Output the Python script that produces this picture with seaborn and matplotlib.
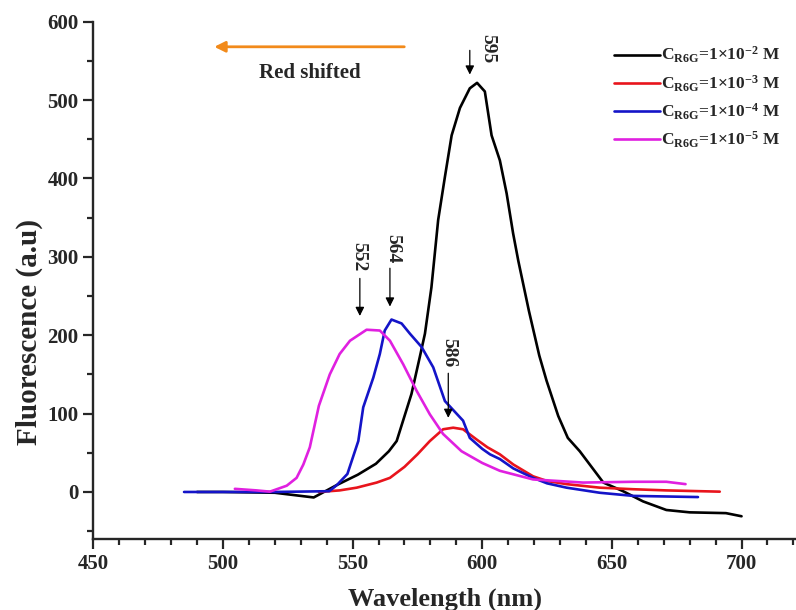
import matplotlib
matplotlib.use("Agg")
import matplotlib.pyplot as plt
from matplotlib.ticker import MultipleLocator
import pandas as pd
import seaborn as sns

# Spectra (wavelength in nm, fluorescence in a.u.)
wl_1e2 = [490, 500, 520, 535, 544, 552, 559, 564, 567, 572.7, 575.9, 577.9, 580.4, 583,
          585.6, 588.2, 591.4, 595.2, 598, 601, 603.6, 606.8, 609.4, 611.9, 613.9, 618,
          622, 624.8, 629.3, 633, 637.6, 646.7, 654.3, 662, 671, 680, 694, 700]
fl_1e2 = [0, 0, -1, -7, 9, 22, 36, 52, 65, 125, 172, 202, 261, 347,
          402, 455, 490, 515, 522, 511, 455, 423, 381, 330, 295, 231,
          174, 142, 97, 69, 52, 12, 1, -12, -23, -26, -27, -31]

wl_1e3 = [537, 545, 551.6, 559.3, 564.4, 570, 575, 579.8, 584.9, 588.8, 592.6, 597.8,
          602, 606.8, 612, 619.6, 625, 632.5, 645.3, 658.2, 671, 691.6]
fl_1e3 = [0, 2, 5.5, 12, 18, 32, 48, 65, 80, 82, 80, 67,
          57, 48, 35, 20, 14, 10, 5.5, 3.5, 2, 0.4]

wl_1e4 = [485, 500, 520, 541, 544, 548, 552.2, 554.1, 558, 560.5, 562.4, 565, 568.9,
          572.1, 576.6, 581.1, 585.6, 592.6, 595.2, 600, 603, 606.8, 612, 619.6, 625,
          632.5, 645.3, 658.2, 683.2]
fl_1e4 = [0, 0, 0, 1, 9, 23, 65, 108, 146, 176, 206, 220, 215,
          202, 185, 159, 116, 91, 69, 55, 48, 42, 30, 18, 11,
          5.5, -1, -5, -6.5]

wl_1e5 = [504.6, 513, 518.1, 524.6, 528.4, 531, 533.5, 537, 541.2, 545, 549, 555.4,
          560.5, 564.4, 569.5, 574.7, 579.8, 584.9, 592, 600, 606.8, 619.6, 638.9,
          658.2, 671, 678.4]
fl_1e5 = [4, 2, 0.4, 8, 18, 35, 57, 110, 150, 176, 193, 207,
          206, 193, 163, 129, 99, 74, 52, 37, 27, 16, 12,
          13, 13, 10]

labels = [r"C$_{\mathrm{R6G}}$=1×10$^{\mathrm{-2}}$ M",
          r"C$_{\mathrm{R6G}}$=1×10$^{\mathrm{-3}}$ M",
          r"C$_{\mathrm{R6G}}$=1×10$^{\mathrm{-4}}$ M",
          r"C$_{\mathrm{R6G}}$=1×10$^{\mathrm{-5}}$ M"]
colors = ["black", "#e8141c", "#1414c8", "#e020e0"]

peak_labels = ["595", "586", "564", "552"]
peak_x = [595.2, 586.9, 564.4, 552.8]
arrow_top = [567, 155, 289, 276]
arrow_tip = [529, 91, 233, 221]
text_x = [602, 586.9, 565.5, 552.4]
text_y = [566, 178, 311, 300]

sns.set_style("ticks")
plt.rcParams["font.family"] = ["Liberation Serif", "DejaVu Serif"]
plt.rcParams["font.weight"] = "bold"
plt.rcParams["mathtext.fontset"] = "custom"
plt.rcParams["mathtext.rm"] = "Liberation Serif:bold"
plt.rcParams["mathtext.it"] = "Liberation Serif:italic:bold"
plt.rcParams["mathtext.bf"] = "Liberation Serif:bold"

fig = plt.figure(figsize=(7.96, 6.10), dpi=100)
ax = fig.add_axes([0.1172, 0.1164, 0.8828, 0.848])

series = [(wl_1e2, fl_1e2), (wl_1e3, fl_1e3), (wl_1e4, fl_1e4), (wl_1e5, fl_1e5)]
for (wl, fl), lab, col in zip(series, labels, colors):
    df = pd.DataFrame({"wl": wl, "fl": fl})
    sns.lineplot(data=df, x="wl", y="fl", color=col, lw=1.9, label=lab,
                 sort=False, estimator=None, ax=ax)

# peak markers
for lab, px, top, tip, tx, ty in zip(peak_labels, peak_x, arrow_top, arrow_tip, text_x, text_y):
    ax.annotate("", xy=(px, tip), xytext=(px, top),
                arrowprops=dict(arrowstyle="-|>", color="black", lw=0.9, mutation_scale=13))
    ax.text(tx, ty, lab, rotation=270, ha="center", va="center", fontsize=14,
            fontweight="bold")

# red shift arrow
ax.annotate("", xy=(495.6, 568), xytext=(571, 568),
            arrowprops=dict(arrowstyle="-|>", color="#f28a1a", lw=2, mutation_scale=16))
ax.text(533.5, 534, "Red shifted", ha="center", va="center", fontsize=15, fontweight="bold")

ax.set_xlim(450, 721)
ax.set_ylim(-60, 600)
ax.xaxis.set_major_locator(MultipleLocator(50))
ax.xaxis.set_minor_locator(MultipleLocator(10))
ax.yaxis.set_major_locator(MultipleLocator(100))
ax.yaxis.set_minor_locator(MultipleLocator(50))
ax.tick_params(which="major", length=7, width=1.6, labelsize=15, direction="out")
ax.tick_params(which="minor", length=4, width=1.6, direction="out")
for t in ax.get_xticklabels() + ax.get_yticklabels():
    t.set_fontweight("bold")

ax.spines["top"].set_visible(False)
ax.spines["right"].set_visible(False)
ax.spines["left"].set_linewidth(1.7)
ax.spines["bottom"].set_linewidth(1.7)

ax.set_xlabel("Wavelength (nm)", fontsize=19, fontweight="bold", labelpad=10)
ax.set_ylabel("Fluorescence (a.u)", fontsize=21, fontweight="bold")
ax.yaxis.set_label_coords(-0.072, 0.40)

leg = ax.legend(loc="upper right", bbox_to_anchor=(1.0, 0.985), frameon=False,
                fontsize=12.5, handlelength=2.6, handletextpad=0.1, labelspacing=0.45)

fig.savefig("out.png", dpi=100)
